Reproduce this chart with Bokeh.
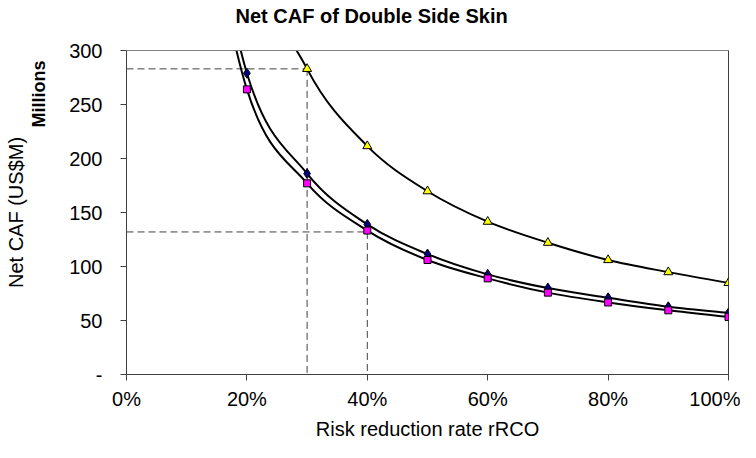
from bokeh.plotting import figure
from bokeh.models import FixedTicker, LinearAxis, Range1d, Span, Title
from bokeh.embed import file_html
from bokeh.resources import INLINE

# ---- data ----
rate = [0.1, 0.2, 0.3, 0.4, 0.5, 0.6, 0.7, 0.8, 0.9, 1.0]
caf_diamond = [557, 279, 186, 139, 111.5, 92.7, 80, 71, 62.7, 57]
caf_square = [530, 264, 177, 133.3, 106, 89, 75.8, 66.7, 59.4, 53.3]
caf_triangle = [850, 425, 283, 211.5, 169.7, 141.5, 122, 106, 94.8, 84.8]

ref_rate = [0.3, 0.4]
ref_caf = [283, 132]

x_ticks = [0, 0.2, 0.4, 0.6, 0.8, 1.0]
x_tick_labels = ["0%", "20%", "40%", "60%", "80%", "100%"]
y_ticks = [0, 50, 100, 150, 200, 250, 300]
y_tick_labels = ["-", "50", "100", "150", "200", "250", "300"]

FONT = "Liberation Sans"

p = figure(width=740, height=442, output_backend="svg", toolbar_location=None,
           x_range=Range1d(0, 1), y_range=Range1d(0, 300),
           min_border_left=126, min_border_right=12, min_border_top=50, min_border_bottom=66,
           background_fill_color="white", border_fill_color="white")
p.xgrid.visible = False
p.ygrid.visible = False
p.outline_line_color = "#808080"
p.outline_line_width = 1

xa = p.below[0]
ya = p.left[0]


def spacer(size, line_color=None):
    # an axis with one invisible (white, unlabeled) tick, used only to reserve room in a side panel
    return LinearAxis(ticker=FixedTicker(ticks=[0]), major_label_overrides={0: ""},
                      major_tick_out=size, major_tick_in=0,
                      major_tick_line_color="white", minor_tick_line_color=None,
                      major_label_standoff=0, axis_label_standoff=0,
                      major_label_text_font_size="1px",
                      axis_line_color=line_color)


# axes
xa.ticker = FixedTicker(ticks=x_ticks)
xa.major_label_overrides = {t: l for t, l in zip(x_ticks, x_tick_labels)}
xa.axis_label = "Risk reduction rate rRCO"
ya.ticker = FixedTicker(ticks=y_ticks)
ya.major_label_overrides = {t: l for t, l in zip(y_ticks, y_tick_labels)}
for ax in (xa, ya):
    ax.axis_line_color = "#404040"
    ax.major_tick_line_color = "#404040"
    ax.major_tick_in = 0
    ax.major_tick_out = 6
    ax.minor_tick_line_color = None
    ax.major_label_text_font = FONT
    ax.major_label_text_font_size = "20px"
    ax.major_label_text_color = "black"
    ax.axis_label_text_font = FONT
    ax.axis_label_text_font_size = "20px"
    ax.axis_label_text_font_style = "normal"
    ax.axis_label_text_color = "black"
xa.major_label_standoff = 7
xa.axis_label_standoff = 5
ya.major_label_standoff = 18

# top: gray frame edge, then the title
p.add_layout(spacer(24, "#808080"), "above")
p.add_layout(Title(text="Net CAF of Double Side Skin", text_font=FONT, text_font_size="20px",
                   text_font_style="bold", text_color="black", align="left", offset=109,
                   vertical_align="bottom", standoff=0), "above")

# left: units label "Millions", then the y-axis title
p.add_layout(spacer(18), "left")
p.add_layout(Title(text="Millions", text_font=FONT, text_font_size="18px", text_font_style="bold",
                   text_color="black", align="right", offset=10, vertical_align="bottom",
                   standoff=0), "left")
ylab = spacer(0)
ylab.axis_label = "Net CAF (US$M)"
ylab.axis_label_text_font = FONT
ylab.axis_label_text_font_size = "20px"
ylab.axis_label_text_font_style = "normal"
ylab.axis_label_text_color = "black"
p.add_layout(ylab, "left")

p.add_layout(Span(location=p.x_range.end, dimension="height", line_color="black", line_width=1))

# reference dashed lines
for rx, ry in zip(ref_rate, ref_caf):
    p.line([p.x_range.start, rx], [ry, ry], line_color="#404040", line_dash="7 4", line_width=1)
    p.line([rx, rx], [ry, p.y_range.start], line_color="#404040", line_dash="7 4", line_width=1)


def smooth(xs, ys):
    n = len(xs)
    x0, y0, x1, y1, cx0, cy0, cx1, cy1 = [], [], [], [], [], [], [], []
    for i in range(n - 1):
        xm, ym = (xs[i - 1], ys[i - 1]) if i > 0 else (xs[i], ys[i])
        xp, yp = (xs[i + 2], ys[i + 2]) if i + 2 < n else (xs[i + 1], ys[i + 1])
        x0.append(xs[i]); y0.append(ys[i])
        x1.append(xs[i + 1]); y1.append(ys[i + 1])
        cx0.append(xs[i] + (xs[i + 1] - xm) / 6); cy0.append(ys[i] + (ys[i + 1] - ym) / 6)
        cx1.append(xs[i + 1] - (xp - xs[i]) / 6); cy1.append(ys[i + 1] - (yp - ys[i]) / 6)
    return dict(x0=x0, y0=y0, x1=x1, y1=y1, cx0=cx0, cy0=cy0, cx1=cx1, cy1=cy1)


for ys in (caf_triangle, caf_diamond, caf_square):
    s = smooth(rate, ys)
    p.bezier(x0=s["x0"], y0=s["y0"], x1=s["x1"], y1=s["y1"], cx0=s["cx0"], cy0=s["cy0"],
             cx1=s["cx1"], cy1=s["cy1"], line_color="black", line_width=2)

p.scatter(rate, caf_triangle, marker="triangle", size=9, fill_color="#FFFF00", line_color="black", line_width=1)
p.scatter(rate, caf_diamond, marker="diamond", size=10, fill_color="#000080", line_color="black", line_width=1)
p.scatter(rate, caf_square, marker="square", size=7, fill_color="#FF00FF", line_color="black", line_width=1)

open("out.html", "w").write(file_html(p, INLINE))
